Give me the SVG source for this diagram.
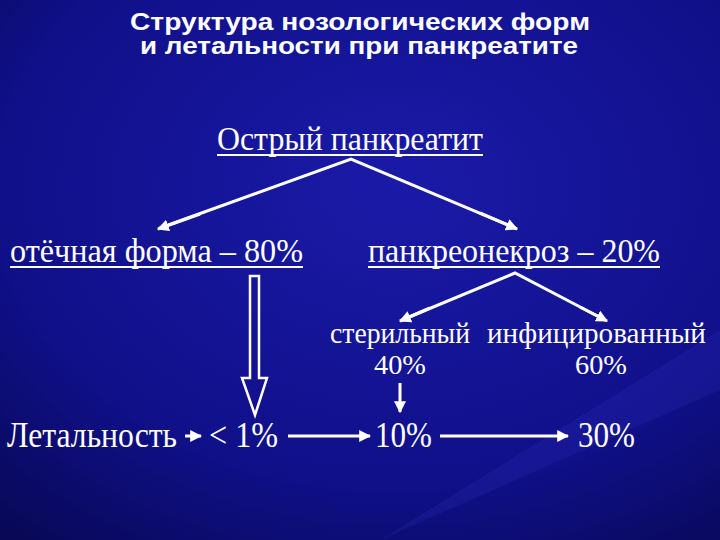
<svg xmlns="http://www.w3.org/2000/svg" width="720" height="540" viewBox="0 0 720 540">
<defs>
<radialGradient id="bg" cx="0.55" cy="0.35" r="0.9">
<stop offset="0" stop-color="#1a1aa8"/><stop offset="0.6" stop-color="#10108a"/><stop offset="1" stop-color="#06064a"/>
</radialGradient>
<marker id="ah" viewBox="0 0 10 10" refX="9" refY="5" markerWidth="4" markerHeight="4" orient="auto" markerUnits="strokeWidth"><path d="M0,0 L10,5 L0,10 Z" fill="#fff"/></marker>
<style>
.t{font-family:"Liberation Serif",serif;fill:#fff}
.h{font-family:"Liberation Sans",sans-serif;font-weight:bold;fill:#fff;font-size:23px}
.c{stroke:#fff;stroke-width:3;fill:none;marker-end:url(#ah)}
.u{stroke:#fff;stroke-width:2}
</style>
</defs>
<rect width="720" height="540" fill="url(#bg)"/>
<path d="M380,540 L720,330 L720,390 Z" fill="#2a2ab8" opacity="0.25"/>
<g id="title">
<text class="h" x="130" y="30" textLength="460" lengthAdjust="spacingAndGlyphs">Структура нозологических форм</text>
<text class="h" x="140" y="54" textLength="438" lengthAdjust="spacingAndGlyphs">и летальности при панкреатите</text>
</g>
<g id="root"><text class="t" x="217" y="150" font-size="33" textLength="266" lengthAdjust="spacingAndGlyphs">Острый панкреатит</text><line class="u" x1="217" y1="155" x2="483" y2="155"/></g>
<g id="edema"><text class="t" x="10" y="262" font-size="34" textLength="293" lengthAdjust="spacingAndGlyphs">отёчная форма – 80%</text><line class="u" x1="10" y1="267" x2="303" y2="267"/></g>
<g id="necrosis"><text class="t" x="368" y="262" font-size="34" textLength="292" lengthAdjust="spacingAndGlyphs">панкреонекроз – 20%</text><line class="u" x1="368" y1="267" x2="660" y2="267"/></g>
<g id="sterile"><text class="t" x="330" y="343" font-size="29" textLength="140" lengthAdjust="spacingAndGlyphs">стерильный</text><text class="t" x="400" y="374" font-size="28" text-anchor="middle" textLength="52" lengthAdjust="spacingAndGlyphs">40%</text></g>
<g id="infected"><text class="t" x="487" y="343" font-size="29" textLength="219" lengthAdjust="spacingAndGlyphs">инфицированный</text><text class="t" x="601" y="374" font-size="28" text-anchor="middle" textLength="52" lengthAdjust="spacingAndGlyphs">60%</text></g>
<g id="lethality"><text class="t" x="7" y="447" font-size="36" textLength="170" lengthAdjust="spacingAndGlyphs">Летальность</text></g>
<g id="v1"><text class="t" x="209" y="447" font-size="36" textLength="69" lengthAdjust="spacingAndGlyphs">&lt; 1%</text></g>
<g id="v10"><text class="t" x="375" y="447" font-size="36" textLength="57" lengthAdjust="spacingAndGlyphs">10%</text></g>
<g id="v30"><text class="t" x="578" y="447" font-size="36" textLength="57" lengthAdjust="spacingAndGlyphs">30%</text></g>
<g id="connectors">
<polyline points="160,228 351,159 515,228" fill="none" stroke="#fff" stroke-width="3"/>
<line class="c" x1="200" y1="214" x2="158" y2="229"/>
<line class="c" x1="480" y1="213" x2="517" y2="229"/>
<polyline points="402,320 515,273 605,320" fill="none" stroke="#fff" stroke-width="3"/>
<line class="c" x1="430" y1="308" x2="400" y2="321"/>
<line class="c" x1="580" y1="307" x2="607" y2="321"/>
<line class="c" x1="400" y1="383" x2="400" y2="412"/>
<path d="M250,276 H259 V378 H267 L255,415 L242,378 H250 Z" fill="none" stroke="#fff" stroke-width="2.5"/>
<line class="c" x1="185" y1="436" x2="201" y2="436"/>
<line class="c" x1="288" y1="436" x2="370" y2="436"/>
<line class="c" x1="440" y1="436" x2="568" y2="436"/>
</g>
</svg>
